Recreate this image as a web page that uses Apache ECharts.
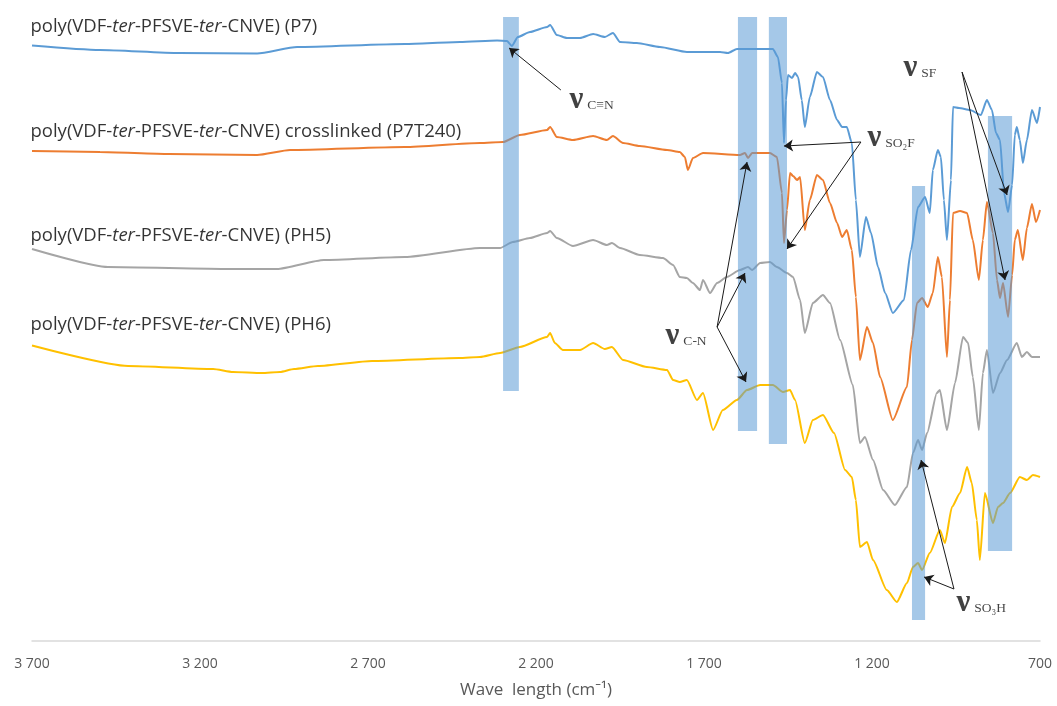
<!DOCTYPE html>
<html><head><meta charset="utf-8">
<script src="https://cdn.jsdelivr.net/npm/echarts@6/dist/echarts.min.js"></script>
<style>html,body{margin:0;padding:0;background:#fff}#c{width:1057px;height:706px}</style>
</head><body><div id="c"></div>
<script>
// x axis ticks (cm-1)
const xTicks = [700, 1200, 1700, 2200, 2700, 3200, 3700];

// P7 (blue) — wavenumber / offset transmittance (a.u.)
const p7Wn = [3700,3498,3262,3030,2911,2590,2426,2316,2286,2272,2254,2218,2167,2158,2138,2108,2069,2030,1995,1971,1950,1900,1831,1751,1652,1629,1602,1495,1480,1468,1462,1456,1450,1438,1429,1420,1409,1400,1385,1364,1346,1325,1304,1289,1275,1260,1248,1236,1218,1203,1182,1161,1138,1105,1084,1063,1042,1028,1019,1004,995,986,977,965,959,941,908,876,858,843,831,819,807,795,783,775,769,760,751,739,724,709,700];
const p7T = [119.1,118.2,117.6,117.5,118.8,119.4,119.8,120.1,120.0,119.0,120.8,121.8,122.8,123.2,121.2,120.6,120.6,121.4,120.8,121.6,119.8,119.6,118.8,117.8,117.8,117.6,118.4,118.4,116.8,111.6,99.6,108.2,113.2,112.6,113.6,112.8,108.2,102.8,108.8,113.8,112.8,108.2,104.2,102.8,102.8,99.6,88.2,76.8,84.8,81.6,74.8,69.6,65.6,68.2,78.2,86.8,88.8,85.6,94.2,98.2,96.8,88.2,80.2,92.2,106.8,106.6,106.2,105.2,108.2,106.2,101.6,100.2,89.6,85.8,91.2,101.2,102.8,100.2,95.6,100.2,106.2,103.6,106.8];

// P7T240 (orange)
const p7t240Wn = [3700,3498,3292,3030,2932,2590,2367,2298,2248,2167,2158,2138,2090,2030,1989,1971,1941,1891,1810,1772,1757,1748,1733,1703,1593,1578,1569,1557,1504,1483,1468,1462,1453,1444,1435,1423,1414,1400,1385,1364,1346,1325,1304,1289,1275,1260,1248,1236,1215,1197,1176,1138,1096,1081,1066,1051,1034,1019,1004,992,977,968,959,938,917,900,882,870,858,840,828,819,810,795,783,775,766,751,739,724,712,700];
const p7t240T = [98.0,97.8,97.4,97.2,98.2,98.8,99.6,99.8,101.2,102.2,102.8,100.8,100.2,101.0,100.2,101.0,99.6,99.0,98.2,97.8,96.8,94.2,96.6,97.6,97.2,97.6,96.6,97.6,97.6,96.8,89.6,79.6,86.2,93.6,93.0,92.2,92.8,82.2,88.2,93.2,92.2,87.6,83.6,80.8,82.2,78.2,68.8,56.2,62.8,59.6,52.8,44.2,50.8,60.2,67.6,68.6,66.8,69.6,76.8,72.8,56.8,68.2,85.6,86.0,85.6,80.2,72.2,80.2,87.8,81.6,72.2,68.6,71.6,64.8,73.2,80.2,82.2,76.2,82.6,87.4,83.8,86.2];

// PH5 (grey)
const ph5Wn = [3700,3474,3111,2971,2831,2590,2367,2307,2269,2218,2167,2158,2138,2090,2030,1989,1974,1950,1891,1822,1792,1772,1751,1733,1712,1703,1682,1661,1632,1593,1569,1557,1533,1504,1483,1453,1435,1414,1400,1376,1346,1325,1295,1257,1236,1221,1197,1167,1132,1096,1078,1063,1051,1036,1007,998,977,953,929,914,900,882,870,858,840,819,798,769,754,739,724,700];
const ph5T = [78.4,74.8,74.4,74.4,76.2,76.8,78.6,78.6,79.8,80.6,81.6,82.0,80.6,79.0,80.2,79.2,79.6,78.6,77.2,76.6,75.2,72.8,72.6,71.6,70.2,72.2,69.6,71.6,72.8,74.2,74.8,74.2,75.6,75.8,74.8,73.6,72.8,68.2,61.6,67.6,69.2,67.6,60.2,51.2,39.6,40.8,36.2,30.2,27.2,30.8,37.6,40.2,38.2,41.6,49.6,50.2,42.2,51.6,60.8,59.6,52.8,42.2,53.6,58.2,49.6,53.6,56.2,59.6,56.8,57.8,56.8,56.8];

// PH6 (yellow)
const ph6Wn = [3700,3414,3161,3102,3016,2962,2920,2849,2688,2429,2367,2307,2248,2167,2158,2144,2120,2069,2030,1995,1974,1941,1870,1810,1792,1772,1751,1721,1703,1673,1644,1602,1572,1533,1495,1465,1444,1429,1400,1376,1346,1313,1280,1260,1248,1236,1215,1197,1156,1126,1096,1078,1063,1051,1028,998,983,962,938,917,903,888,879,864,840,825,810,789,760,739,721,700];
const ph6T = [59.1,55.0,54.4,53.8,53.6,53.8,54.4,55.0,56.0,56.6,56.8,57.6,58.8,60.8,61.6,59.6,58.2,58.2,59.6,58.4,58.8,56.2,54.8,54.2,52.2,51.8,52.2,48.2,49.6,42.2,46.2,48.2,50.2,51.2,51.2,49.8,50.2,48.2,39.6,44.2,45.2,41.6,34.2,32.8,28.2,18.8,19.8,16.2,10.2,7.8,11.6,14.8,15.6,14.2,17.6,22.2,19.6,26.8,29.6,34.8,31.6,24.2,16.2,29.6,23.6,26.8,27.6,29.6,32.8,32.2,33.2,32.8];

// Sample names and their label heights
const sampleSuffix = [' (P7)', ' crosslinked (P7T240)', ' (PH5)', ' (PH6)'];
const sampleLabelT = [122.8, 101.8, 81.0, 63.2];
const sampleColors = ['#5B9BD5', '#ED7D31', '#A5A5A5', '#FFC000'];

// Highlighted bands: wavenumber range and vertical extent
const bandLo = [2251, 1542, 1453, 1042, 783];
const bandHi = [2298, 1599, 1507, 1081, 855];
const bandTop = [124.8, 124.8, 124.8, 91.0, 105.0];
const bandBottom = [50.0, 42.0, 39.4, 4.2, 18.0];

// Vibration annotations
const vibSub = ['C≡N', 'SO₂F', 'C-N', 'SF', 'SO₃H'];
const vibWn = [2102, 1215, 1816, 1108, 950];
const vibT = [108.2, 100.6, 61.0, 114.6, 7.6];

// Arrows: [wn, T] start and end points
const arrowFrom = [[2126,110.2],[1233,99.8],[1233,99.8],[1661,62.8],[1661,62.8],[1661,62.8],[932,113.8],[932,113.8],[956,10.4],[956,10.4]];
const arrowTo = [[2280,118.6],[1462,99.0],[1453,78.4],[1572,95.8],[1578,73.6],[1575,51.8],[798,89.2],[804,72.2],[1054,36.2],[1045,12.8]];

const zip = (a, b) => a.map((x, i) => [x, b[i]]);
const spectra = [zip(p7Wn, p7T), zip(p7t240Wn, p7t240T), zip(ph5Wn, ph5T), zip(ph6Wn, ph6T)];

const fmt = v => v >= 1000 ? Math.floor(v / 1000) + ' ' + String(v % 1000).padStart(3, '0') : String(v);
const SANS = "'Open Sans', 'Noto Sans', sans-serif";
const SERIF = "'Liberation Serif', 'DejaVu Serif', serif";

const series = [];
spectra.forEach((d, i) => {
  series.push({
    type: 'line', data: d, showSymbol: false, silent: true, z: 2,
    smooth: 0.2, smoothMonotone: 'x',
    lineStyle: { color: sampleColors[i], width: 2 }, itemStyle: { color: sampleColors[i] }
  });
});
series.push({
  type: 'custom', z: 3, silent: true,
  data: bandLo.map((lo, i) => [lo, bandHi[i], bandTop[i], bandBottom[i]]),
  encode: { x: [0, 1], y: [2, 3] },
  renderItem: (params, api) => {
    const a = api.coord([api.value(0), api.value(2)]);
    const b = api.coord([api.value(1), api.value(3)]);
    return { type: 'rect', shape: { x: Math.min(a[0], b[0]), y: Math.min(a[1], b[1]), width: Math.abs(a[0] - b[0]), height: Math.abs(a[1] - b[1]) },
      style: { fill: 'rgba(91,155,213,0.55)' } };
  }
});
series.push({
  type: 'lines', coordinateSystem: 'cartesian2d', z: 4, silent: true,
  symbol: ['none', 'arrow'], symbolSize: [0, 9],
  lineStyle: { color: '#1a1a1a', width: 1, opacity: 1, curveness: 0 },
  data: arrowFrom.map((f, i) => ({ coords: [f, arrowTo[i]] }))
});
series.push({
  type: 'scatter', z: 5, silent: true, symbolSize: 1, itemStyle: { color: 'rgba(0,0,0,0)' },
  data: sampleLabelT.map((t, i) => ({ value: [3700, t], idx: i })),
  label: {
    show: true, position: 'right', distance: 0, offset: [-2, 0],
    formatter: p => '{n|poly(VDF-}{i|ter}{n|-PFSVE-}{i|ter}{n|-CNVE)' + sampleSuffix[p.data.idx] + '}',
    rich: {
      n: { fontFamily: SANS, fontSize: 18.5, color: '#000' },
      i: { fontFamily: SANS, fontSize: 18.5, color: '#000', fontStyle: 'italic' }
    }
  }
});
series.push({
  type: 'scatter', z: 5, silent: true, symbolSize: 1, itemStyle: { color: 'rgba(0,0,0,0)' },
  data: vibWn.map((w, i) => ({ value: [w, vibT[i]], idx: i })),
  label: {
    show: true, position: 'right', distance: 0,
    formatter: p => '{nu|ν}{s|' + vibSub[p.data.idx] + '}',
    rich: {
      nu: { fontFamily: SERIF, fontSize: 31, fontWeight: 'bold', color: '#111', verticalAlign: 'bottom', padding: [0, 4, 0, 0] },
      s: { fontFamily: SERIF, fontSize: 13.5, color: '#111', verticalAlign: 'bottom', padding: [0, 0, 3, 0] }
    }
  }
});

const chart = echarts.init(document.getElementById('c'), null, { renderer: 'canvas' });
chart.setOption({
  animation: false,
  backgroundColor: '#fff',
  grid: { left: 32, right: 17, top: 10, bottom: 65 },
  xAxis: {
    type: 'value', inverse: true, min: xTicks[0], max: xTicks[xTicks.length - 1], interval: 500,
    axisLine: { show: true, lineStyle: { color: '#d9d9d9', width: 1.5 } },
    axisTick: { show: false }, splitLine: { show: false },
    axisLabel: { color: '#595959', fontSize: 14, fontFamily: SANS, margin: 16, formatter: fmt, showMinLabel: true, showMaxLabel: true },
    name: 'Wave  length (cm⁻¹)', nameLocation: 'middle', nameGap: 41,
    nameTextStyle: { color: '#595959', fontSize: 17, fontFamily: SANS }
  },
  yAxis: { type: 'value', min: 0, max: 126.2, show: false },
  series
});
</script>
</body></html>
